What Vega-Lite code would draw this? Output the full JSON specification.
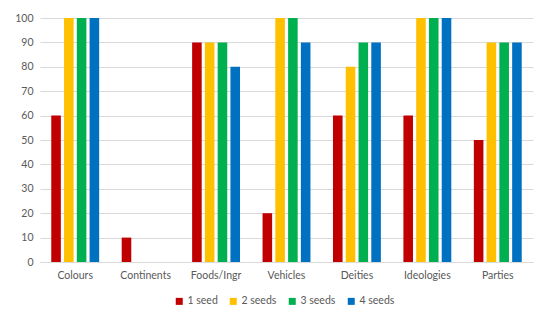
{
  "$schema": "https://vega.github.io/schema/vega-lite/v6.json",
  "width": 493,
  "height": 244,
  "autosize": {"type": "none"},
  "padding": {"left": 40, "top": 18, "right": 17, "bottom": 62},
  "background": "white",
  "data": {
    "values": [
      {"category": "Colours", "series": "1 seed", "value": 60},
      {"category": "Colours", "series": "2 seeds", "value": 100},
      {"category": "Colours", "series": "3 seeds", "value": 100},
      {"category": "Colours", "series": "4 seeds", "value": 100},
      {"category": "Continents", "series": "1 seed", "value": 10},
      {"category": "Continents", "series": "2 seeds", "value": 0},
      {"category": "Continents", "series": "3 seeds", "value": 0},
      {"category": "Continents", "series": "4 seeds", "value": 0},
      {"category": "Foods/Ingr", "series": "1 seed", "value": 90},
      {"category": "Foods/Ingr", "series": "2 seeds", "value": 90},
      {"category": "Foods/Ingr", "series": "3 seeds", "value": 90},
      {"category": "Foods/Ingr", "series": "4 seeds", "value": 80},
      {"category": "Vehicles", "series": "1 seed", "value": 20},
      {"category": "Vehicles", "series": "2 seeds", "value": 100},
      {"category": "Vehicles", "series": "3 seeds", "value": 100},
      {"category": "Vehicles", "series": "4 seeds", "value": 90},
      {"category": "Deities", "series": "1 seed", "value": 60},
      {"category": "Deities", "series": "2 seeds", "value": 80},
      {"category": "Deities", "series": "3 seeds", "value": 90},
      {"category": "Deities", "series": "4 seeds", "value": 90},
      {"category": "Ideologies", "series": "1 seed", "value": 60},
      {"category": "Ideologies", "series": "2 seeds", "value": 100},
      {"category": "Ideologies", "series": "3 seeds", "value": 100},
      {"category": "Ideologies", "series": "4 seeds", "value": 100},
      {"category": "Parties", "series": "1 seed", "value": 50},
      {"category": "Parties", "series": "2 seeds", "value": 90},
      {"category": "Parties", "series": "3 seeds", "value": 90},
      {"category": "Parties", "series": "4 seeds", "value": 90}
    ]
  },
  "mark": {"type": "bar"},
  "encoding": {
    "x": {
      "field": "category",
      "type": "nominal",
      "sort": null,
      "scale": {"paddingInner": 0.32, "paddingOuter": 0.16},
      "axis": {
        "title": null,
        "labelAngle": 0,
        "ticks": false,
        "domainColor": "#D9D9D9",
        "labelColor": "#595959",
        "labelFont": "Lato",
        "labelFontSize": 10.5,
        "labelPadding": 8,
        "grid": false
      }
    },
    "xOffset": {
      "field": "series",
      "type": "nominal",
      "scale": {"paddingInner": 0.25, "paddingOuter": 0}
    },
    "y": {
      "field": "value",
      "type": "quantitative",
      "scale": {"domain": [0, 100], "nice": false},
      "axis": {
        "title": null,
        "values": [0, 10, 20, 30, 40, 50, 60, 70, 80, 90, 100],
        "domain": false,
        "ticks": false,
        "gridColor": "#D9D9D9",
        "labelColor": "#595959",
        "labelFont": "Lato",
        "labelFontSize": 10.5,
        "labelPadding": 7
      }
    },
    "color": {
      "field": "series",
      "type": "nominal",
      "scale": {
        "domain": ["1 seed", "2 seeds", "3 seeds", "4 seeds"],
        "range": ["#C00000", "#FFC000", "#00B050", "#0070C0"]
      },
      "legend": {
        "title": null,
        "orient": "none",
        "direction": "horizontal",
        "legendX": 134,
        "legendY": 278,
        "symbolType": "square",
        "symbolSize": 49,
        "symbolStrokeWidth": 0,
        "labelColor": "#595959",
        "labelFont": "Lato",
        "labelFontSize": 10.5,
        "labelOffset": 3,
        "columnPadding": 10
      }
    }
  },
  "config": {
    "view": {"stroke": null}
  }
}
